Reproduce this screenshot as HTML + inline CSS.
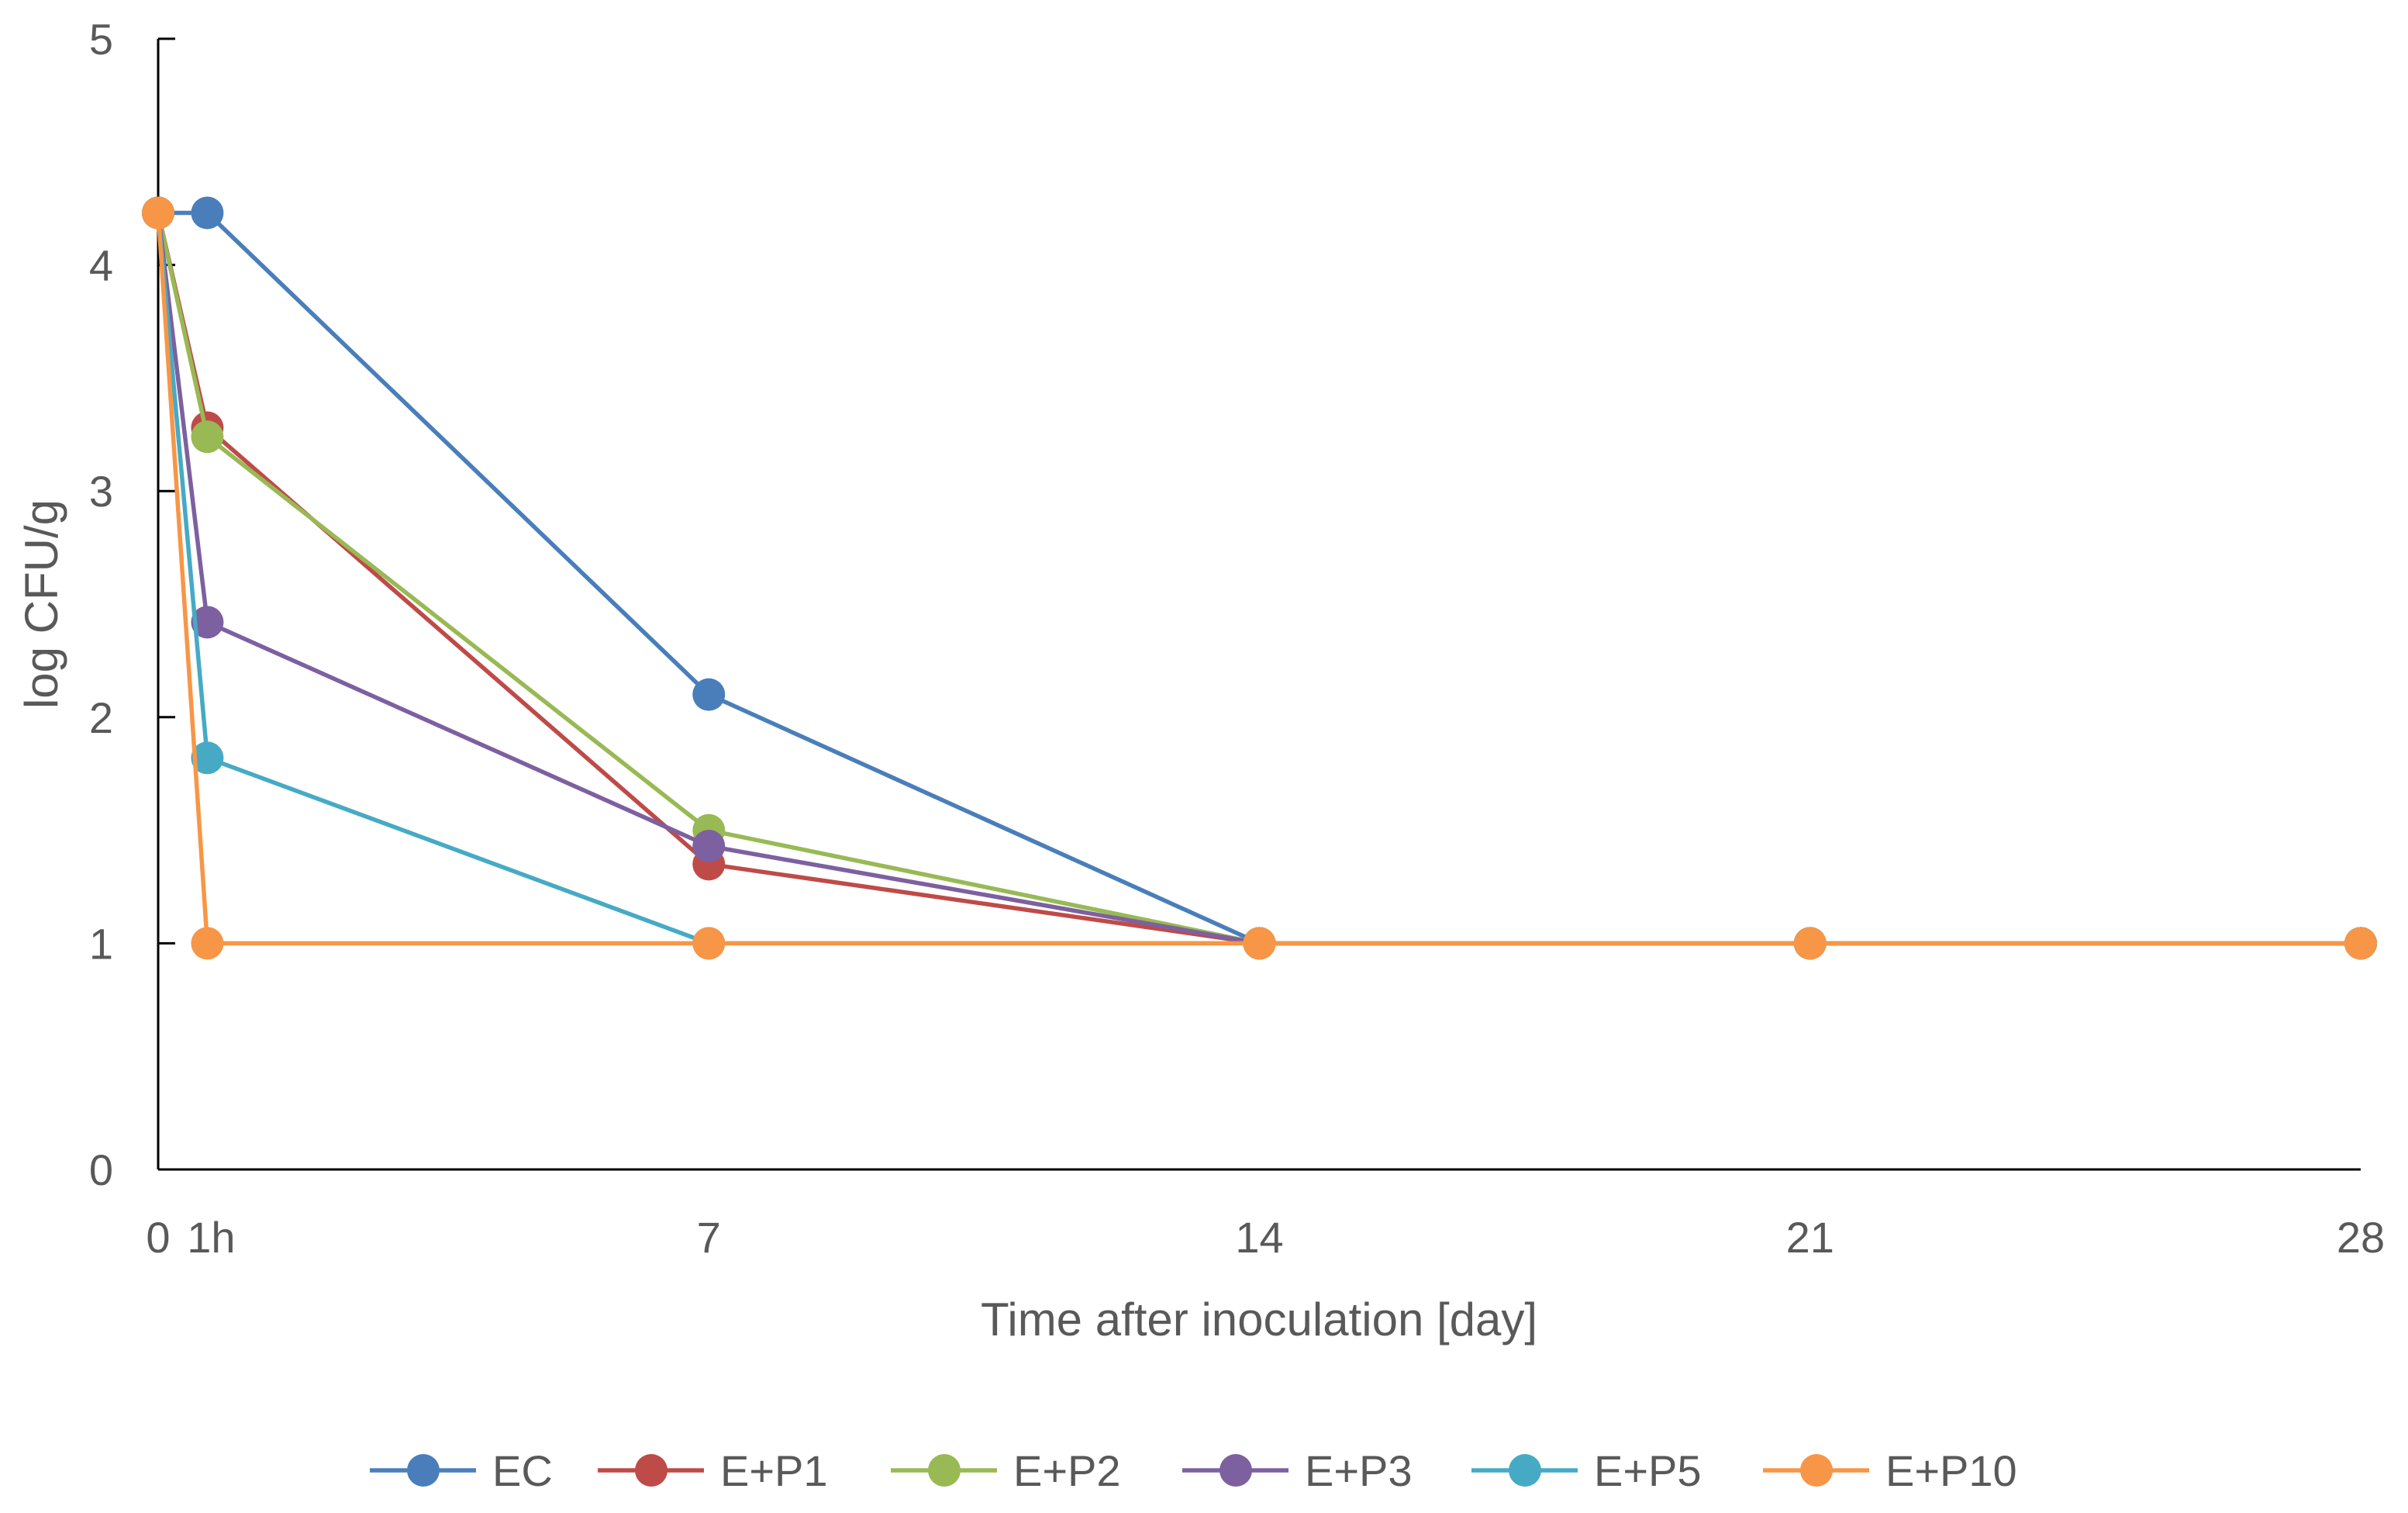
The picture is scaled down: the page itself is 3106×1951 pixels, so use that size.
<!DOCTYPE html>
<html><head><meta charset="utf-8"><style>
body{margin:0;background:#fff}
svg{display:block}
text{font-family:"Liberation Sans",sans-serif;fill:#595959}
</style></head><body>
<svg id="chart" width="3106" height="1951" viewBox="0 0 3106 1951" xmlns="http://www.w3.org/2000/svg">
<g id="grid"></g><g id="series"></g><g id="legend"></g>
</svg>
<script>
const xValues=[0,0.625,7,14,21,28];
const xTickValues=[0,0.625,7,14,21,28];
const xTickLabels=["0","1h","7","14","21","28"];
const yTicks=[0,1,2,3,4,5];
const seriesNames=["EC","E+P1","E+P2","E+P3","E+P5","E+P10"];
const seriesColors=["#4a7ebb","#be4b48","#98b954","#7d60a0","#46aac5","#f79646"];
const ecValues=[4.23,4.23,2.1,1,1,1];
const p1Values=[4.23,3.28,1.35,1,1,1];
const p2Values=[4.23,3.24,1.5,1,1,1];
const p3Values=[4.23,2.42,1.43,1,1,1];
const p5Values=[4.23,1.82,1,1,1,1];
const p10Values=[4.23,1,1,1,1,1];
const allSeries=[ecValues,p1Values,p2Values,p3Values,p5Values,p10Values];

const NS="http://www.w3.org/2000/svg";
const X0=204,X1=3045,Y0=1508,Y1=50;
const xs=v=>X0+(v-0)/(28-0)*(X1-X0);
const ys=v=>Y0-(v-0)/(5-0)*(Y0-Y1);
function mk(tag,attrs,parent){const e=document.createElementNS(NS,tag);for(const k in attrs)e.setAttribute(k,attrs[k]);parent.appendChild(e);return e;}
const grid=document.getElementById('grid');


let yl=mk('line',{x1:X0,y1:Y1,x2:X0,y2:Y0,stroke:'#000','stroke-width':3},grid);


let xl=mk('line',{x1:X0,y1:Y0,x2:X1,y2:Y0,stroke:'#000','stroke-width':3},grid);


yTicks.forEach(v=>{
  let t=mk('line',{x1:X0,y1:ys(v),x2:X0+22,y2:ys(v),stroke:'#000','stroke-width':3},grid);
  
  
  let l=mk('text',{x:146,y:ys(v)+20,'text-anchor':'end','font-size':56},grid);
  l.textContent=v;
  
  
});
xTickValues.forEach((v,i)=>{
  let l=mk('text',{x:xs(v)+(i===1?5:0),y:1615,'text-anchor':'middle','font-size':56},grid);
  l.textContent=xTickLabels[i];
  
  
});
let xt=mk('text',{x:1624,y:1722,'text-anchor':'middle','font-size':60},grid);
xt.textContent='Time after inoculation [day]';


let yt=mk('text',{x:0,y:0,'text-anchor':'middle','font-size':60,transform:'translate(74,779) rotate(-90)'},grid);
yt.textContent='log CFU/g';



const sg=document.getElementById('series');
allSeries.forEach((vals,si)=>{
  const g=mk('g',{},sg);
  
  
  const pts=vals.map((v,i)=>xs(xValues[i])+','+ys(v)).join(' ');
  let pl=mk('polyline',{points:pts,fill:'none',stroke:seriesColors[si],'stroke-width':5.5,'stroke-linejoin':'round'},g);
  
  
  vals.forEach((v,i)=>{
    let c=mk('circle',{cx:xs(xValues[i]),cy:ys(v),r:21,fill:seriesColors[si]},g);
    
    
  });
});

const lg=document.getElementById('legend');


const legX=[477,771,1149,1525,1898,2274];
seriesNames.forEach((n,i)=>{
  const g=mk('g',{},lg);
  
  
  const x=legX[i],y=1896;
  mk('line',{x1:x,y1:y,x2:x+137,y2:y,stroke:seriesColors[i],'stroke-width':5.5},g);
  mk('circle',{cx:x+69,cy:y,r:21,fill:seriesColors[i]},g);
  let t=mk('text',{x:x+158,y:y+20,'font-size':56},g);
  t.textContent=n;
});
</script>
</body></html>
